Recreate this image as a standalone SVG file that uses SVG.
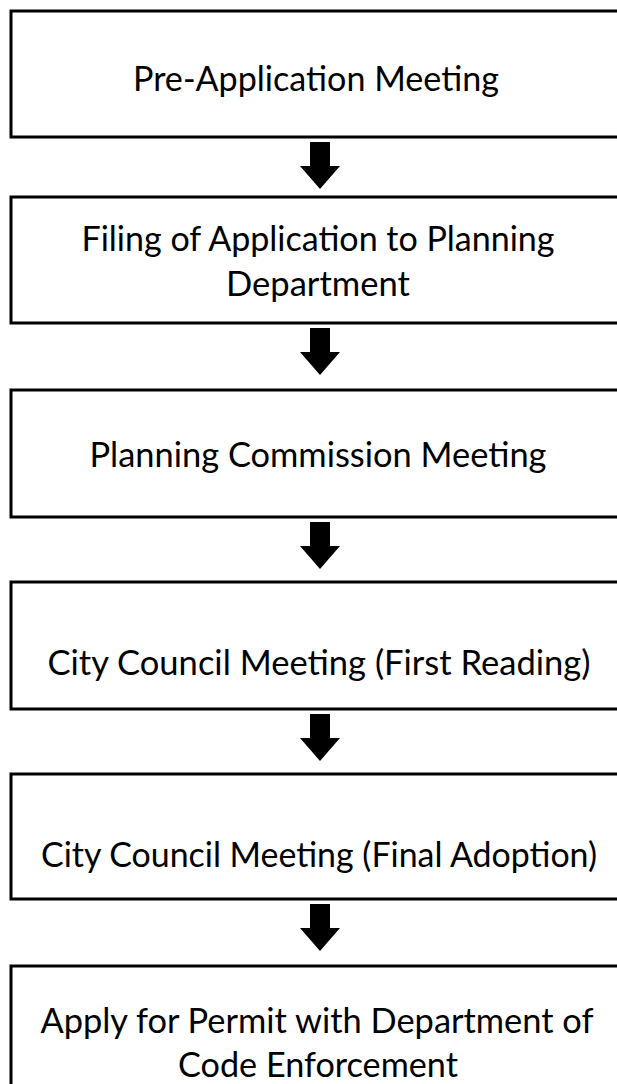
<svg xmlns="http://www.w3.org/2000/svg" width="617" height="1084" viewBox="0 0 617 1084">
<style>
.box{fill:#fff;stroke:#000;stroke-width:3}
.t{font-family:Lato,"Liberation Sans",sans-serif;font-size:34px;fill:#000;text-anchor:middle}
.arr{fill:#000}
</style>
<rect width="617" height="1084" fill="#fff"/>
<g id="n1"><rect class="box" x="11" y="11" width="609" height="126"/><text class="t" x="316" y="91" textLength="366" lengthAdjust="spacingAndGlyphs">Pre-Application Meeting</text></g>
<g id="n2"><rect class="box" x="11" y="197" width="609" height="126"/><text class="t" x="318" y="251" textLength="473" lengthAdjust="spacingAndGlyphs">Filing of Application to Planning</text><text class="t" x="318" y="296" textLength="184" lengthAdjust="spacingAndGlyphs">Department</text></g>
<g id="n3"><rect class="box" x="11" y="390" width="609" height="127"/><text class="t" x="318" y="467" textLength="457" lengthAdjust="spacingAndGlyphs">Planning Commission Meeting</text></g>
<g id="n4"><rect class="box" x="11" y="582" width="609" height="127"/><text class="t" x="319" y="675" textLength="543" lengthAdjust="spacingAndGlyphs">City Council Meeting (First Reading)</text></g>
<g id="n5"><rect class="box" x="11" y="774" width="609" height="125"/><text class="t" x="319" y="867" textLength="556" lengthAdjust="spacingAndGlyphs">City Council Meeting (Final Adoption)</text></g>
<g id="n6"><rect class="box" x="11" y="966" width="609" height="140"/><text class="t" x="317" y="1033" textLength="553" lengthAdjust="spacingAndGlyphs">Apply for Permit with Department of</text><text class="t" x="318" y="1077" textLength="280" lengthAdjust="spacingAndGlyphs">Code Enforcement</text></g>
<g id="connectors">
<path class="arr" d="M310 142H330V166H340L320 189L300 166H310Z"/>
<path class="arr" d="M310 328H330V352H340L320 375L300 352H310Z"/>
<path class="arr" d="M310 522H330V546H340L320 569L300 546H310Z"/>
<path class="arr" d="M310 714H330V738H340L320 761L300 738H310Z"/>
<path class="arr" d="M310 904H330V928H340L320 951L300 928H310Z"/>
</g>
</svg>
